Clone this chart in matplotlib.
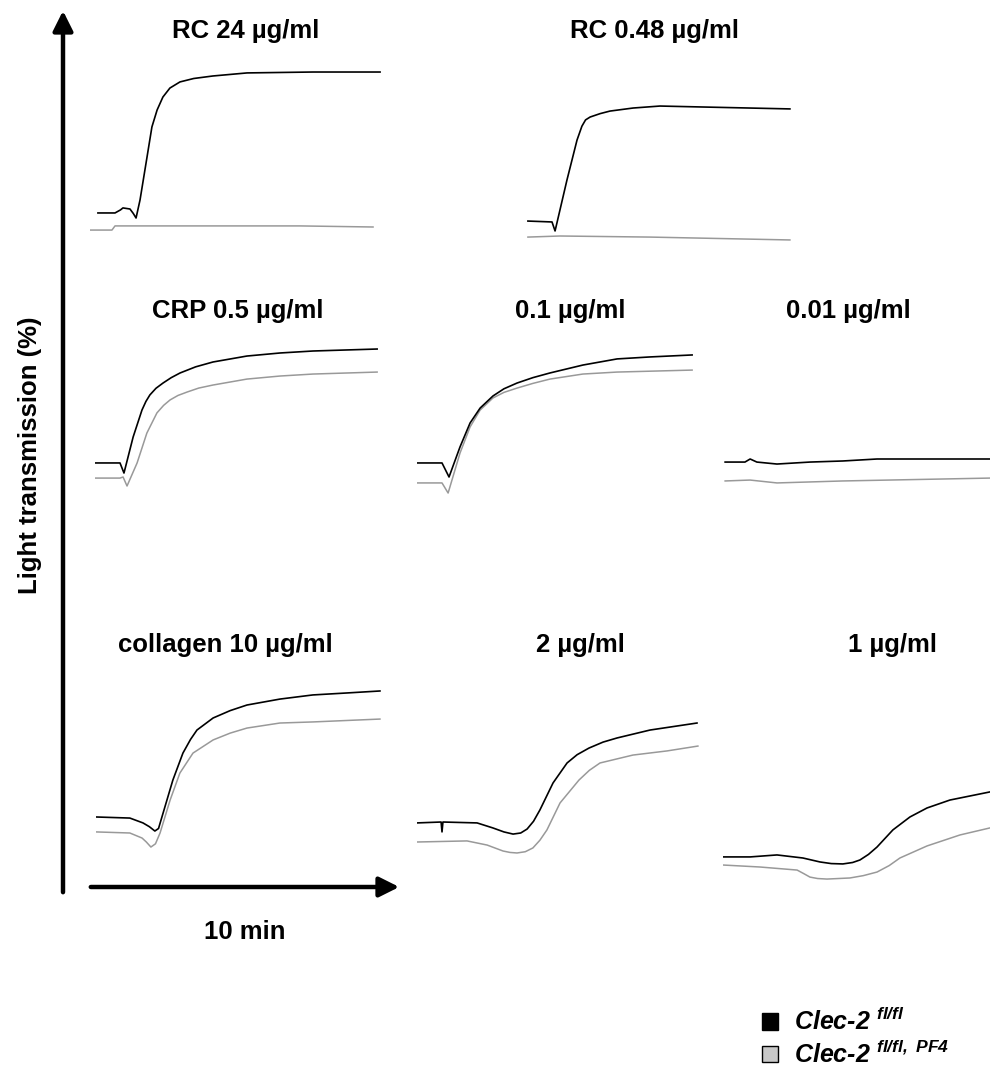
import matplotlib
matplotlib.use("Agg")
import matplotlib.pyplot as plt
from matplotlib.patches import Patch

plt.rcParams['font.family'] = ['Liberation Sans', 'DejaVu Sans']
plt.rcParams['mathtext.fontset'] = 'custom'
plt.rcParams['mathtext.rm'] = 'Liberation Sans:bold:italic'
plt.rcParams['mathtext.it'] = 'Liberation Sans:bold:italic'
plt.rcParams['mathtext.bf'] = 'Liberation Sans:bold:italic'

# light transmission traces, time in min, transmission in %
# black = Clec-2 fl/fl, grey = Clec-2 fl/fl, PF4
titles = ["RC 24 µg/ml", "RC 0.48 µg/ml",
          "CRP 0.5 µg/ml", "0.1 µg/ml", "0.01 µg/ml",
          "collagen 10 µg/ml", "2 µg/ml", "1 µg/ml"]

rc24_wt_t = [0.26, 0.82, 1.00, 1.08, 1.31, 1.42, 1.51, 1.64, 1.87, 2.03, 2.20, 2.39, 2.62, 2.95, 3.40, 4.03, 5.15, 7.31, 9.51]
rc24_wt_y = [17.8, 17.8, 19.5, 20.6, 20.0, 17.5, 15.0, 25.0, 48.9, 65.6, 75.0, 82.2, 87.2, 90.6, 92.5, 93.9, 95.6, 96.1, 96.1]
rc24_ko_t = [0.0, 0.72, 0.82, 3.61, 6.89, 9.28]
rc24_ko_y = [8.3, 8.3, 10.6, 10.6, 10.6, 10.0]

rc048_wt_t = [0.03, 0.82, 0.92, 1.31, 1.64, 1.80, 1.92, 2.07, 2.40, 2.72, 3.48, 4.36, 5.67, 8.62]
rc048_wt_y = [13.3, 12.8, 7.8, 36.1, 58.3, 66.0, 69.5, 71.1, 73.0, 74.4, 76.1, 77.2, 76.7, 75.6]
rc048_ko_t = [0.03, 1.08, 4.03, 8.62]
rc048_ko_y = [4.4, 5.0, 4.4, 2.8]

crp05_wt_t = [0.0, 0.82, 0.95, 1.25, 1.54, 1.67, 1.80, 2.00, 2.23, 2.50, 2.79, 3.30, 3.87, 4.98, 6.07, 7.15, 9.25]
crp05_wt_y = [17.8, 17.8, 12.2, 32.2, 47.2, 52.0, 55.6, 59.3, 62.2, 65.2, 67.8, 71.2, 73.9, 77.2, 78.9, 80.0, 81.1]
crp05_ko_t = [0.0, 0.82, 0.92, 1.05, 1.38, 1.70, 2.03, 2.25, 2.46, 2.72, 3.02, 3.40, 3.87, 4.98, 6.07, 7.15, 9.25]
crp05_ko_y = [9.4, 9.4, 10.0, 5.0, 17.8, 34.4, 45.6, 49.8, 52.8, 55.3, 57.2, 59.4, 61.1, 64.4, 66.1, 67.2, 68.3]

crp01_wt_t = [0.0, 0.82, 1.05, 1.41, 1.74, 2.07, 2.49, 2.85, 3.28, 3.80, 4.36, 5.44, 6.56, 7.64, 9.02]
crp01_wt_y = [17.8, 17.8, 10.0, 26.7, 40.0, 48.3, 55.0, 59.0, 62.2, 65.2, 67.8, 72.2, 75.6, 76.7, 77.8]
crp01_ko_t = [0.0, 0.82, 1.02, 1.41, 1.74, 2.07, 2.49, 2.85, 3.28, 3.80, 4.36, 5.44, 6.56, 9.02]
crp01_ko_y = [6.7, 6.7, 1.1, 23.3, 37.8, 47.2, 53.9, 57.0, 59.4, 62.0, 64.4, 67.2, 68.3, 69.4]

crp001_wt_t = [0.07, 0.72, 0.89, 1.11, 1.77, 2.85, 3.93, 5.05, 8.75]
crp001_wt_y = [18.3, 18.3, 20.0, 18.3, 17.2, 18.3, 18.9, 20.0, 20.0]
crp001_ko_t = [0.07, 0.89, 1.77, 3.93, 8.75]
crp001_ko_y = [7.8, 8.3, 6.7, 7.8, 9.4]

col10_wt_t = [0.0, 1.11, 1.54, 1.75, 1.93, 2.05, 2.20, 2.52, 2.85, 3.10, 3.31, 3.84, 4.40, 4.95, 6.03, 7.11, 8.23, 9.31]
col10_wt_y = [23.9, 23.3, 20.6, 18.5, 16.1, 17.5, 26.1, 44.4, 59.4, 67.0, 72.2, 78.9, 83.0, 86.1, 89.4, 91.7, 92.8, 93.9]
col10_ko_t = [0.0, 1.11, 1.51, 1.65, 1.80, 1.95, 2.10, 2.43, 2.75, 3.18, 3.84, 4.40, 4.95, 6.03, 7.11, 9.31]
col10_ko_y = [15.6, 15.0, 12.2, 10.0, 7.2, 9.0, 15.0, 33.3, 48.3, 59.4, 66.7, 70.5, 73.3, 76.1, 76.7, 78.3]

col2_wt_t = [0.0, 0.79, 0.82, 0.85, 1.97, 2.49, 2.85, 3.15, 3.40, 3.61, 3.82, 4.03, 4.46, 4.92, 5.25, 5.64, 6.10, 6.56, 7.64, 9.18]
col2_wt_y = [20.6, 21.1, 15.6, 21.1, 20.6, 17.8, 15.6, 14.4, 15.0, 17.2, 21.5, 27.8, 42.8, 53.9, 58.5, 62.2, 65.5, 67.8, 72.2, 76.1]
col2_ko_t = [0.0, 1.64, 2.30, 2.82, 3.05, 3.28, 3.55, 3.80, 4.03, 4.26, 4.69, 5.31, 5.65, 6.00, 7.08, 8.20, 9.21]
col2_ko_y = [10.0, 10.6, 8.3, 5.0, 4.2, 3.9, 4.6, 6.7, 11.0, 16.7, 31.7, 44.4, 49.8, 53.9, 58.3, 60.6, 63.3]

col1_wt_t = [0.0, 0.89, 1.77, 2.62, 3.18, 3.55, 3.93, 4.25, 4.49, 4.77, 5.05, 5.57, 6.13, 6.69, 7.44, 8.75]
col1_wt_y = [15.6, 15.6, 16.7, 15.0, 12.8, 11.9, 11.7, 12.5, 13.9, 17.0, 21.1, 30.6, 37.8, 42.8, 47.2, 51.7]
col1_ko_t = [0.0, 1.21, 2.43, 2.65, 2.85, 3.10, 3.41, 4.16, 4.60, 5.05, 5.45, 5.80, 6.69, 7.77, 8.75]
col1_ko_y = [11.1, 10.0, 8.3, 6.3, 4.4, 3.6, 3.3, 3.9, 5.2, 7.2, 10.8, 15.0, 21.7, 27.8, 31.7]

traces = [
    (rc24_wt_t, rc24_wt_y, rc24_ko_t, rc24_ko_y),
    (rc048_wt_t, rc048_wt_y, rc048_ko_t, rc048_ko_y),
    (crp05_wt_t, crp05_wt_y, crp05_ko_t, crp05_ko_y),
    (crp01_wt_t, crp01_wt_y, crp01_ko_t, crp01_ko_y),
    (crp001_wt_t, crp001_wt_y, crp001_ko_t, crp001_ko_y),
    (col10_wt_t, col10_wt_y, col10_ko_t, col10_ko_y),
    (col2_wt_t, col2_wt_y, col2_ko_t, col2_ko_y),
    (col1_wt_t, col1_wt_y, col1_ko_t, col1_ko_y),
]

W, H = 990, 1071
# panel boxes: left px, bottom px (from top), title centre x, title y (px from top)
panel_left = [90, 527, 95, 417, 723, 96, 417, 723]
panel_bottom = [245, 245, 495, 495, 495, 860, 860, 885]
title_x = [246, 655, 238, 570, 848, 225, 580, 893]
title_y = [31, 31, 311, 311, 311, 645, 645, 645]
pw, ph = 305, 180   # 10 min across, 100 % up
FS = 18.5

fig = plt.figure(figsize=(W / 100, H / 100), dpi=100)

for i in range(len(titles)):
    ax = fig.add_axes([panel_left[i] / W, (H - panel_bottom[i]) / H, pw / W, ph / H])
    wt_t, wt_y, ko_t, ko_y = traces[i]
    ax.plot(ko_t, ko_y, color='#999999', lw=1.1)
    ax.plot(wt_t, wt_y, color='black', lw=1.2)
    ax.set_xlim(0, 10)
    ax.set_ylim(0, 100)
    ax.axis('off')
    fig.text(title_x[i] / W, 1 - title_y[i] / H, titles[i], ha='center', va='center',
             fontsize=FS, fontweight='bold')

# axis arrows
over = fig.add_axes([0, 0, 1, 1])
over.axis('off')
over.annotate('', xy=(63, H - 8), xytext=(63, H - 895), xycoords='figure pixels',
              arrowprops=dict(arrowstyle='-|>', lw=3.2, color='black', mutation_scale=30))
over.annotate('', xy=(402, H - 887), xytext=(88, H - 887), xycoords='figure pixels',
              arrowprops=dict(arrowstyle='-|>', lw=3.2, color='black', mutation_scale=30))
fig.text(245 / W, 1 - 932 / H, "10 min", ha='center', va='center', fontsize=FS, fontweight='bold')
fig.text(30 / W, 1 - 455 / H, "Light transmission (%)", ha='center', va='center',
         rotation=90, fontsize=FS, fontweight='bold')

handles = [Patch(facecolor='black', edgecolor='black'),
           Patch(facecolor='#c8c8c8', edgecolor='black')]
labels = [r'Clec-2 $^{fl/fl}$', r'Clec-2 $^{fl/fl,\ PF4}$']
fig.legend(handles, labels, loc='upper left', bbox_to_anchor=(762 / W, 1 - 1008 / H),
           frameon=False, borderaxespad=0, borderpad=0,
           handlelength=0.65, handleheight=0.65, handletextpad=0.65,
           labelspacing=0.22, prop=dict(size=18, weight='bold', style='italic'))

fig.savefig("out.png", dpi=100)
